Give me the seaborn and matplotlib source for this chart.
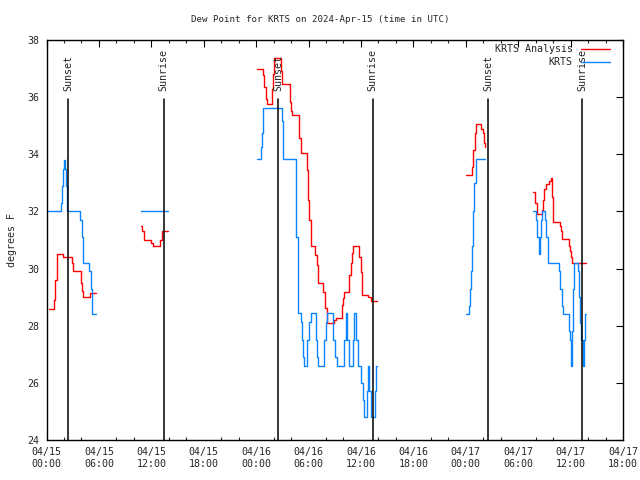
import numpy as np
import pandas as pd
import matplotlib
matplotlib.use("Agg")
import matplotlib.pyplot as plt
import matplotlib.dates as mdates
import seaborn as sns

# ---------------- data (hours since 2024-04-15 00:00 UTC, degrees F) -------------
TITLE = "Dew Point for KRTS on 2024-Apr-15 (time in UTC)"
SERIES_ANALYSIS = "KRTS Analysis"
SERIES_OBS = "KRTS"

# KRTS Analysis (red) segments
r1_t = [0.23, 0.88, 1.00, 1.19, 1.88, 2.91, 3.09, 3.94, 4.05, 4.23, 5.00, 5.65]
r1_v = [28.6, 28.9, 29.6, 30.5, 30.4, 30.2, 29.9, 29.5, 29.2, 29.0, 29.15, 29.15]
r2_t = [10.87, 10.99, 11.18, 11.98, 12.18, 13.01, 13.21, 13.89]
r2_v = [31.5, 31.3, 31.0, 30.9, 30.8, 31.0, 31.3, 31.3]
r3_t = [24.15, 24.83, 24.95, 25.14, 25.22, 25.86, 25.98, 26.09, 26.89, 27.01,
        27.89, 28.04, 28.15, 28.95, 29.11, 29.87, 29.98, 30.10, 30.26, 30.75,
        30.94, 31.13, 31.70, 31.89, 32.16, 32.96, 33.15, 33.81, 33.99, 34.10,
        34.68, 34.87, 35.02, 35.13, 35.82, 36.02, 36.16, 36.85, 37.16, 37.81]
r3_v = [36.97, 36.78, 36.37, 35.93, 35.76, 36.3, 36.8, 37.36, 36.9, 36.47,
        35.84, 35.5, 35.37, 34.56, 34.03, 33.45, 32.4, 31.7, 30.79, 30.48,
        30.13, 29.48, 29.19, 28.61, 28.08, 28.2, 28.26, 28.73, 28.96, 29.17,
        29.78, 30.18, 30.56, 30.79, 30.4, 29.89, 29.08, 29.0, 28.88, 28.88]
r4_t = [48.03, 48.75, 48.87, 49.03, 49.14, 49.78, 49.94, 50.06, 50.17, 50.21]
r4_v = [33.26, 33.57, 34.15, 34.74, 35.06, 34.9, 34.74, 34.4, 34.27, 34.27]
r5_t = [55.73, 55.89, 55.93, 56.12, 56.76, 56.84, 56.96, 57.15, 57.53, 57.79,
        57.87, 57.95, 58.02, 58.75, 58.90, 59.05, 59.78, 59.90, 60.05, 60.13, 61.73]
r5_v = [32.69, 32.57, 32.28, 31.9, 32.05, 32.4, 32.77, 32.97, 33.07, 33.16,
        32.5, 32.03, 31.64, 31.5, 31.3, 31.03, 30.8, 30.6, 30.4, 30.18, 30.18]

# KRTS observations (blue) segments
b1_t = [0.11, 1.65, 1.76, 1.88, 1.99, 2.14, 2.25, 2.33, 3.89, 4.01, 4.17, 4.23,
        4.92, 5.04, 5.20, 5.26, 5.65]
b1_v = [32.0, 32.3, 32.9, 33.5, 33.8, 33.5, 32.9, 32.0, 31.7, 31.1, 30.5, 30.2,
        29.9, 29.3, 28.7, 28.4, 28.4]
b2_t = [10.84, 13.89]
b2_v = [32.0, 32.0]
b3_t = [24.15, 24.54, 24.69, 24.77, 24.83, 26.94, 27.05, 27.12, 28.54, 28.61,
        28.77, 28.84, 29.15, 29.30, 29.41, 29.53, 29.87, 30.06, 30.26, 30.83,
        30.98, 31.13, 31.81, 32.01, 32.16, 32.78, 32.98, 33.23, 34.10, 34.26,
        34.44, 34.60, 35.06, 35.21, 35.48, 35.64, 35.98, 36.21, 36.39, 36.67,
        36.78, 36.96, 37.12, 37.61, 37.77, 37.85]
b3_v = [33.83, 34.27, 34.74, 35.32, 35.61, 35.17, 34.2, 33.83, 32.93, 31.1,
        29.25, 28.43, 28.14, 27.5, 26.92, 26.6, 27.5, 28.14, 28.43, 27.5,
        26.92, 26.6, 27.5, 28.14, 28.43, 27.5, 26.92, 26.6, 27.5, 28.43,
        27.5, 26.6, 27.5, 28.43, 27.5, 26.6, 26.0, 25.4, 24.8, 25.7,
        26.6, 25.7, 24.8, 25.7, 26.6, 26.6]
b4_t = [48.03, 48.41, 48.53, 48.61, 48.69, 48.80, 48.91, 49.14, 50.17]
b4_v = [28.4, 28.7, 29.3, 29.9, 30.8, 32.0, 33.0, 33.82, 33.82]
b5_t = [55.73, 55.99, 56.18, 56.38, 56.50, 56.61, 56.76, 57.11, 57.22, 57.45,
        58.68, 58.79, 58.98, 59.10, 59.78, 59.97, 60.05, 60.09, 60.20, 60.32,
        60.43, 60.82, 60.97, 61.12, 61.23, 61.46, 61.57, 61.68, 61.73]
b5_v = [32.0, 31.7, 31.1, 30.5, 31.1, 31.7, 32.0, 31.7, 31.1, 30.2,
        29.9, 29.3, 28.7, 28.4, 27.8, 27.5, 26.86, 26.6, 27.8, 29.3,
        30.2, 29.9, 29.0, 28.1, 27.5, 26.6, 27.5, 28.4, 28.4]

# sun events (hours since start)
sun_labels = ["Sunset", "Sunrise", "Sunset", "Sunrise", "Sunset", "Sunrise"]
sun_hours = [2.50, 13.43, 26.52, 37.36, 50.54, 61.30]

y_ticks = [24, 26, 28, 30, 32, 34, 36, 38]
start = pd.Timestamp("2024-04-15 00:00")
end = pd.Timestamp("2024-04-17 18:00")

# ---------------- build table ----------------
rows = []
for name, segs in [(SERIES_ANALYSIS, [(r1_t, r1_v), (r2_t, r2_v), (r3_t, r3_v), (r4_t, r4_v), (r5_t, r5_v)]),
                   (SERIES_OBS, [(b1_t, b1_v), (b2_t, b2_v), (b3_t, b3_v), (b4_t, b4_v), (b5_t, b5_v)])]:
    for i, (tt, vv) in enumerate(segs):
        for t, v in zip(tt, vv):
            rows.append({"time": start + pd.to_timedelta(t, unit="h"), "value": v,
                         "series": name, "segment": f"{name}-{i}"})
df = pd.DataFrame(rows)

# ---------------- plot ----------------
sns.set_style("white")
plt.rcParams["font.family"] = ["DejaVu Sans Mono"]
plt.rcParams["font.size"] = 7

fig = plt.figure(figsize=(6.4, 4.8), dpi=100)
ax = fig.add_axes([46.5 / 640, 40 / 480, (623 - 46.5) / 640, 400 / 480])

pal = {SERIES_ANALYSIS: "#ff0000", SERIES_OBS: "#0a84ff"}
sns.lineplot(data=df, x="time", y="value", hue="series", units="segment",
             estimator=None, drawstyle="steps-post", palette=pal,
             hue_order=[SERIES_ANALYSIS, SERIES_OBS], linewidth=1.0,
             legend=False, ax=ax)

for lab, h in zip(sun_labels, sun_hours):
    t = start + pd.to_timedelta(h, unit="h")
    ax.axvline(t, ymin=0, ymax=0.853, color="black", linewidth=1.1)
    ax.text(t, 36.2, lab, rotation=90, ha="center", va="bottom", fontsize=7.2)

ax.set_xlim(start, end)
ax.set_ylim(24, 38)
ax.set_yticks(y_ticks)
ax.set_yticklabels([str(v) for v in y_ticks])
ax.xaxis.set_major_locator(mdates.HourLocator(byhour=[0, 6, 12, 18]))
ax.xaxis.set_minor_locator(mdates.HourLocator(byhour=range(0, 24, 2)))
ax.xaxis.set_major_formatter(mdates.DateFormatter("%m/%d\n%H:%M"))
ax.tick_params(axis="both", which="major", direction="in", length=5, width=0.8,
               top=True, right=True, labelsize=7.2, pad=5, color="black")
ax.tick_params(axis="x", which="minor", direction="in", length=2.5, width=0.8,
               top=True, bottom=True)
for s in ax.spines.values():
    s.set_color("black")
    s.set_linewidth(1.0)
ax.set_xlabel("")
ax.set_ylabel("")
ax.grid(False)

# legend (gnuplot style, right aligned text, sample line after text)
ax.text(0.913, 0.977, SERIES_ANALYSIS, transform=ax.transAxes, ha="right", va="center", fontsize=7.2)
ax.text(0.913, 0.944, SERIES_OBS, transform=ax.transAxes, ha="right", va="center", fontsize=7.2)
ax.plot([0.927, 0.977], [0.977, 0.977], transform=ax.transAxes, color=pal[SERIES_ANALYSIS], lw=1.0, clip_on=False)
ax.plot([0.927, 0.977], [0.944, 0.944], transform=ax.transAxes, color=pal[SERIES_OBS], lw=1.0, clip_on=False)

fig.text(0.5, 1 - 20 / 480, TITLE, ha="center", va="center", fontsize=6.6)
fig.text(12 / 640, 0.5, "degrees F", rotation=90, ha="center", va="center", fontsize=7.2)

fig.savefig("out.png", dpi=100, facecolor="white")
